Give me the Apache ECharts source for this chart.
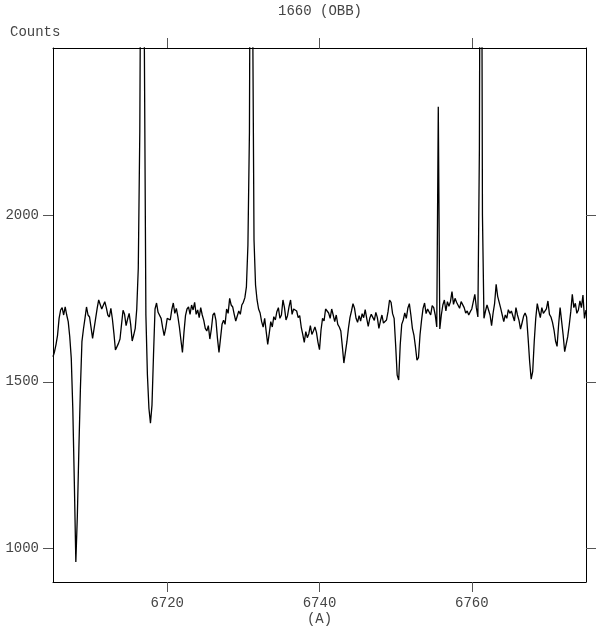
<!DOCTYPE html>
<html><head><meta charset="utf-8">
<script src="https://cdn.jsdelivr.net/npm/echarts@6/dist/echarts.min.js"></script>
<style>html,body{margin:0;padding:0;background:#fff}#c{width:600px;height:627px}</style>
</head><body><div id="c"></div>
<script>
const titleText = '1660 (OBB)';
const yAxisTitle = 'Counts';
const xAxisTitle = '(A)';
const xRange = [6705, 6775];
const yRange = [900, 2500];
const xTicks = [6720, 6740, 6760];
const yTicks = [1000, 1500, 2000];
// uniform wavelength sampling grid (Angstrom)
const wavelengthStart = 6705.0;
const wavelengthStep = 0.2;
// counts, one per grid step
const counts = [
1575,1590,1612,1640,1690,1715,1722,1700,1724,1700,
1680,1635,1570,1420,1200,960,1100,1300,1480,1620,
1658,1690,1724,1700,1694,1662,1630,1660,1690,1720,
1745,1750,1718,1715,1740,1722,1700,1694,1720,1688,
1645,1595,1600,1615,1628,1672,1714,1702,1668,1688,
1705,1672,1622,1640,1660,1718,1840,2250,3200,3400,
2500,1700,1520,1420,1376,1430,1580,1718,1736,1708,
1705,1690,1662,1638,1660,1690,1690,1685,1716,1736,
1705,1720,1695,1664,1625,1588,1648,1698,1718,1724,
1702,1730,1715,1738,1702,1715,1692,1722,1700,1684,
1660,1652,1668,1628,1658,1700,1706,1684,1630,1588,
1630,1672,1684,1672,1718,1705,1750,1730,1724,1702,
1682,1678,1712,1702,1730,1738,1752,1784,1910,2250,
3600,2700,1925,1790,1745,1718,1706,1680,1664,1690,
1650,1612,1645,1680,1664,1695,1685,1710,1722,1690,
1700,1745,1722,1685,1698,1725,1745,1702,1718,1720,
1712,1692,1698,1664,1642,1618,1650,1632,1644,1668,
1642,1652,1664,1648,1618,1596,1655,1690,1682,1718,
1716,1706,1690,1718,1700,1680,1700,1672,1664,1652,
1606,1556,1560,1620,1660,1692,1712,1734,1720,1690,
1678,1698,1682,1704,1692,1716,1690,1666,1690,1702,
1706,1684,1708,1692,1660,1682,1700,1676,1672,1685,
1710,1745,1738,1704,1690,1610,1520,1505,1610,1672,
1685,1706,1690,1720,1734,1700,1660,1640,1605,1565,
1572,1640,1684,1720,1736,1704,1718,1722,1700,1728,
1722,1700,1664,2324,1658,1700,1730,1745,1712,1740,
1726,1740,1770,1732,1750,1738,1736,1720,1740,1745,
1722,1706,1712,1700,1710,1718,1740,1762,1722,1694,
2200,3800,2000,1690,1712,1730,1728,1700,1668,1706,
1735,1792,1756,1738,1720,1700,1680,1700,1690,1716,
1705,1712,1716,1682,1722,1700,1684,1658,1676,1696,
1706,1694,1630,1560,1508,1530,1620,1690,1734,1712,
1692,1722,1705,1700,1718,1742,1702,1694,1678,1655,
1622,1606,1670,1722,1720,1640,1590,1590,1635,1670,
1710,1762,1722,1735,1705,1715,1742,1722,1760,1690,
1715
];
const wavelengths = counts.map((_, i) => +(wavelengthStart + i * wavelengthStep).toFixed(2));
const seriesData = wavelengths.map((w, i) => [w, counts[i]]);

const FONT = "'Liberation Mono', 'Courier New', monospace";
const TXT = '#444';
const TICK = '#555';
const plain = v => String(v);

const chart = echarts.init(document.getElementById('c'), null, {renderer: 'canvas'});
chart.setOption({
  animation: false,
  backgroundColor: '#fff',
  title: [
    {text: titleText, left: 320, top: 4, padding: 0, textAlign: 'center',
     textStyle: {fontFamily: FONT, fontSize: 14, fontWeight: 'normal', color: TXT}},
    {text: yAxisTitle, left: 10, top: 25, padding: 0,
     textStyle: {fontFamily: FONT, fontSize: 14, fontWeight: 'normal', color: TXT}}
  ],
  grid: {left: 53, right: 14, top: 48, bottom: 45, containLabel: false, outerBoundsMode: 'none'},
  xAxis: [
    {type: 'value', position: 'bottom', min: xRange[0], max: xRange[1],
     name: xAxisTitle, nameLocation: 'middle', nameGap: 30, nameMoveOverlap: false,
     nameTextStyle: {fontFamily: FONT, fontSize: 14, color: TXT},
     axisLine: {show: true, onZero: false, lineStyle: {color: '#000', width: 1}},
     axisTick: {show: true, inside: false, length: 10, customValues: xTicks, lineStyle: {color: TICK, width: 1}},
     axisLabel: {show: true, margin: 14, customValues: xTicks, formatter: plain, fontFamily: FONT, fontSize: 14, color: TXT},
     splitLine: {show: false}},
    {type: 'value', position: 'top', min: xRange[0], max: xRange[1],
     axisLine: {show: true, onZero: false, lineStyle: {color: '#000', width: 1}},
     axisTick: {show: true, inside: false, length: 10, customValues: xTicks, lineStyle: {color: TICK, width: 1}},
     axisLabel: {show: false},
     splitLine: {show: false}}
  ],
  yAxis: [
    {type: 'value', position: 'left', min: yRange[0], max: yRange[1],
     axisLine: {show: true, onZero: false, lineStyle: {color: '#000', width: 1}},
     axisTick: {show: true, inside: false, length: 10, customValues: yTicks, lineStyle: {color: TICK, width: 1}},
     axisLabel: {show: true, margin: 14, customValues: yTicks, formatter: plain, fontFamily: FONT, fontSize: 14, color: TXT},
     splitLine: {show: false}},
    {type: 'value', position: 'right', min: yRange[0], max: yRange[1],
     axisLine: {show: true, onZero: false, lineStyle: {color: '#000', width: 1}},
     axisTick: {show: true, inside: false, length: 10, customValues: yTicks, lineStyle: {color: TICK, width: 1}},
     axisLabel: {show: false},
     splitLine: {show: false}}
  ],
  series: [{
    type: 'line', xAxisIndex: 0, yAxisIndex: 0,
    data: seriesData, showSymbol: false, symbol: 'none', smooth: false,
    clip: true,
    lineStyle: {color: '#000', width: 1.3}
  }]
});
</script>
</body></html>
